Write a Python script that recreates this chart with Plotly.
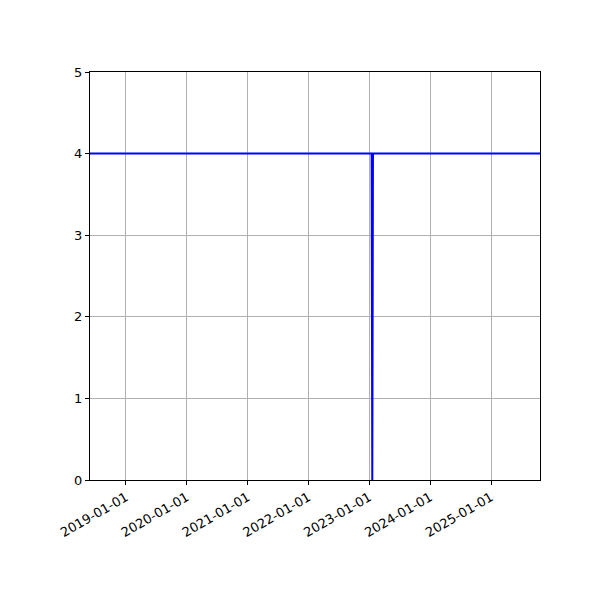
import plotly.graph_objects as go

dates = ["2018-05-30", "2023-01-15", "2023-01-19", "2023-01-23", "2025-10-22"]
values = [4, 4, 0, 4, 4]

x_range = ["2018-05-30", "2025-10-22"]
y_range = [0, 5]

fig = go.Figure()
fig.add_trace(go.Scatter(x=dates, y=values, mode="lines",
                         line=dict(color="blue", width=2), showlegend=False))

axis_style = dict(showline=True, linecolor="black", linewidth=1, mirror=True,
                  ticks="outside", ticklen=4, tickcolor="black",
                  showgrid=True, gridcolor="#b0b0b0", gridwidth=1, zeroline=False,
                  tickfont=dict(family="DejaVu Sans", size=13, color="black"))

fig.update_xaxes(range=x_range, type="date", tick0="2019-01-01", dtick="M12",
                 tickformat="%Y-%m-%d", tickangle=-30, **axis_style)
fig.update_yaxes(range=y_range, dtick=1, **axis_style)

# page body adds ~8px offset, so margins are trimmed to match
fig.update_layout(width=600, height=600, plot_bgcolor="white", paper_bgcolor="white",
                  margin=dict(l=82, r=68, t=64, b=128))

fig.write_html("out.html")
